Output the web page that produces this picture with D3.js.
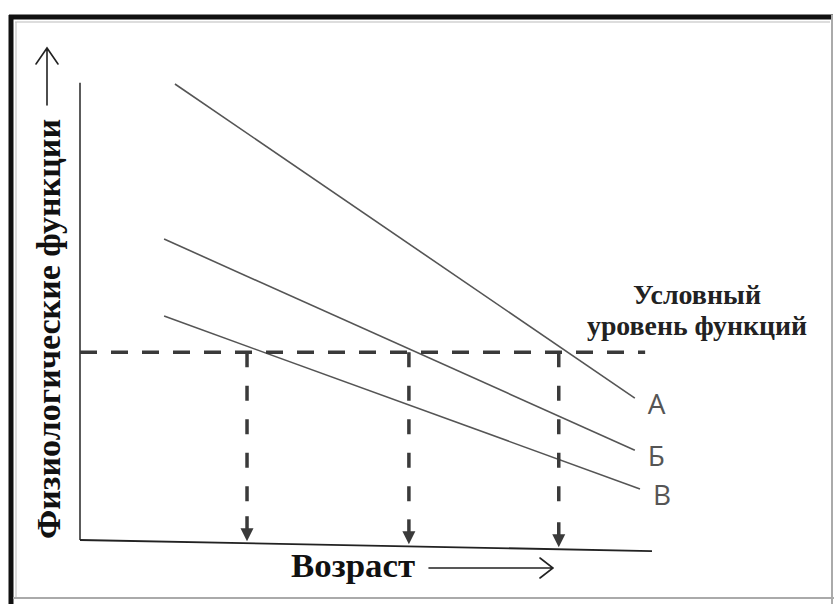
<!DOCTYPE html>
<html>
<head>
<meta charset="utf-8">
<script src="https://cdn.jsdelivr.net/npm/d3@7"></script>
<style>
  body { margin: 0; background: #fff; }
  svg { display: block; }
</style>
</head>
<body>
<div id="chart"></div>
<script>
// ---- data (abstract units: age 0..100, function level 0..100) ----
const lineNames = ["А", "Б", "В"];
const lineStartAge = [16.6, 14.7, 14.7];
const lineStartLevel = [100, 66.0, 49.1];
const lineEndAge = [97.0, 97.0, 97.9];
const lineEndLevel = [31.1, 19.7, 11.2];

const thresholdLevel = 41.2;
const thresholdEndAge = 98.8;
const crossingAges = [29.2, 57.5, 83.7]; // where each line meets the threshold

const yLabel = "Физиологические функции";
const xLabel = "Возраст";
const thresholdLabel = ["Условный", "уровень функций"];

const width = 834, height = 604;
const margin = { top: 84, right: 182, bottom: 64, left: 80 };

const svg = d3.select("#chart").append("svg")
    .attr("width", width)
    .attr("height", height);

// frame: heavy black top/left, light grey right/bottom
const frame = svg.append("g");
frame.append("line").attr("x1", 9).attr("y1", 17).attr("x2", 833).attr("y2", 17)
    .attr("stroke", "#111").attr("stroke-width", 5);
frame.append("line").attr("x1", 11).attr("y1", 15).attr("x2", 11).attr("y2", 604)
    .attr("stroke", "#111").attr("stroke-width", 5);
frame.append("line").attr("x1", 15).attr("y1", 22).attr("x2", 830).attr("y2", 22)
    .attr("stroke", "#bbb").attr("stroke-width", 1);
frame.append("line").attr("x1", 16).attr("y1", 22).attr("x2", 16).attr("y2", 598)
    .attr("stroke", "#bbb").attr("stroke-width", 1);
frame.append("line").attr("x1", 832).attr("y1", 15).attr("x2", 832).attr("y2", 604)
    .attr("stroke", "#aaa").attr("stroke-width", 2);
frame.append("line").attr("x1", 13).attr("y1", 598).attr("x2", 834).attr("y2", 598)
    .attr("stroke", "#aaa").attr("stroke-width", 2);

// scales
const x = d3.scaleLinear()
    .domain([0, 100])
    .range([margin.left, width - margin.right]);

const y = d3.scaleLinear()
    .domain([0, 100])
    .range([height - margin.bottom, margin.top]);

// the x axis in the scan droops slightly to the right
const axisTilt = 11 / 570;
const axisY = a => y(0) + axisTilt * (x(a) - x(0));

// axes
svg.append("line")
    .attr("x1", x(0)).attr("y1", y(100.3))
    .attr("x2", x(0)).attr("y2", y(0))
    .attr("stroke", "#333").attr("stroke-width", 1.6);

svg.append("line")
    .attr("x1", x(0)).attr("y1", axisY(0))
    .attr("x2", x(100)).attr("y2", axisY(100))
    .attr("stroke", "#222").attr("stroke-width", 1.8);

// lines А, Б, В
const lines = lineNames.map((name, i) => ({
    name,
    points: [[lineStartAge[i], lineStartLevel[i]], [lineEndAge[i], lineEndLevel[i]]]
}));

const lineGen = d3.line()
    .x(d => x(d[0]))
    .y(d => y(d[1]));

svg.append("g")
    .selectAll("path")
    .data(lines)
    .join("path")
    .attr("d", d => lineGen(d.points))
    .attr("fill", "none")
    .attr("stroke", "#555")
    .attr("stroke-width", 1.6);

// labels at line ends
svg.append("g")
    .selectAll("text")
    .data(lines)
    .join("text")
    .attr("x", d => x(d.points[1][0]) + 13)
    .attr("y", d => y(d.points[1][1]) + 16)
    .attr("font-family", "'Open Sans', sans-serif")
    .attr("font-size", 28)
    .attr("fill", "#555")
    .text(d => d.name);

// threshold dashed line
svg.append("line")
    .attr("x1", x(0)).attr("y1", y(thresholdLevel))
    .attr("x2", x(thresholdEndAge)).attr("y2", y(thresholdLevel))
    .attr("stroke", "#3a3a3a")
    .attr("stroke-width", 3.5)
    .attr("stroke-dasharray", "17,14");

// drop lines to the age axis
const drops = svg.append("g");
drops.selectAll("line.dash")
    .data(crossingAges)
    .join("line")
    .attr("class", "dash")
    .attr("x1", d => x(d)).attr("y1", y(thresholdLevel))
    .attr("x2", d => x(d)).attr("y2", d => axisY(d) - 37)
    .attr("stroke", "#3a3a3a")
    .attr("stroke-width", 3.5)
    .attr("stroke-dasharray", "15,18.5");

drops.selectAll("line.shaft")
    .data(crossingAges)
    .join("line")
    .attr("class", "shaft")
    .attr("x1", d => x(d)).attr("y1", d => axisY(d) - 27)
    .attr("x2", d => x(d)).attr("y2", d => axisY(d) - 12)
    .attr("stroke", "#3a3a3a")
    .attr("stroke-width", 3.5);

drops.selectAll("path.head")
    .data(crossingAges)
    .join("path")
    .attr("class", "head")
    .attr("d", d => {
        const px = x(d), tip = axisY(d) - 2;
        return `M${px - 6.5},${tip - 13} L${px + 6.5},${tip - 13} L${px},${tip} Z`;
    })
    .attr("fill", "#3a3a3a");

// threshold caption
const capX = 697;
svg.append("text")
    .attr("x", capX).attr("y", 304)
    .attr("text-anchor", "middle")
    .attr("font-family", "'Liberation Serif', 'DejaVu Serif', serif")
    .attr("font-weight", "bold")
    .attr("font-size", 27)
    .attr("fill", "#222")
    .attr("textLength", 128)
    .attr("lengthAdjust", "spacingAndGlyphs")
    .text(thresholdLabel[0]);
svg.append("text")
    .attr("x", capX).attr("y", 335)
    .attr("text-anchor", "middle")
    .attr("font-family", "'Liberation Serif', 'DejaVu Serif', serif")
    .attr("font-weight", "bold")
    .attr("font-size", 27)
    .attr("fill", "#222")
    .attr("textLength", 220)
    .attr("lengthAdjust", "spacingAndGlyphs")
    .text(thresholdLabel[1]);

// axis titles with arrows
svg.append("text")
    .attr("transform", "translate(60,329) rotate(-90)")
    .attr("text-anchor", "middle")
    .attr("font-family", "'Liberation Serif', 'DejaVu Serif', serif")
    .attr("font-weight", "bold")
    .attr("font-size", 34)
    .attr("fill", "#111")
    .attr("textLength", 420)
    .attr("lengthAdjust", "spacingAndGlyphs")
    .text(yLabel);

svg.append("text")
    .attr("x", 291).attr("y", 577)
    .attr("font-family", "'Liberation Serif', 'DejaVu Serif', serif")
    .attr("font-weight", "bold")
    .attr("font-size", 34)
    .attr("fill", "#111")
    .attr("textLength", 124)
    .attr("lengthAdjust", "spacingAndGlyphs")
    .text(xLabel);

const arrowStyle = sel => sel
    .attr("fill", "none")
    .attr("stroke", "#222")
    .attr("stroke-width", 1.6)
    .attr("stroke-linecap", "round");

svg.append("path")
    .attr("d", "M47,105 L47,48 M36,64 L47,48 L58,64")
    .call(arrowStyle);

svg.append("path")
    .attr("d", "M429,568 L553,568 M540,558 L553,568 L540,578")
    .call(arrowStyle);
</script>
</body>
</html>
